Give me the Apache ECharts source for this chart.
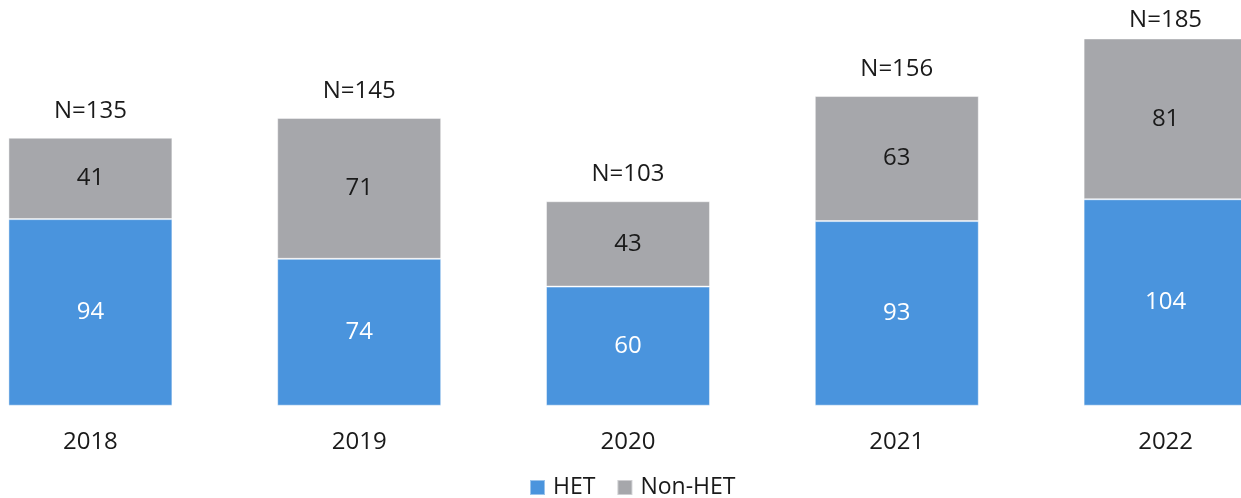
<!DOCTYPE html>
<html>
<head>
<meta charset="utf-8">
<script src="https://cdn.jsdelivr.net/npm/echarts@6/dist/echarts.min.js"></script>
<style>
  html, body { margin: 0; padding: 0; background: #ffffff; }
  #chart { width: 1241px; height: 498px; }
</style>
</head>
<body>
<div id="chart"></div>
<script>
// Annual case counts split by HET / Non-HET
const years = ['2018', '2019', '2020', '2021', '2022'];
const het = [94, 74, 60, 93, 104];
const nonHet = [41, 71, 43, 63, 81];
const totals = years.map((_, i) => het[i] + nonHet[i]);

const FONT = "'Open Sans', 'Noto Sans', sans-serif";
const TEXT = '#1a1a1a';

const chart = echarts.init(document.getElementById('chart'), null, { renderer: 'canvas' });

// The tallest stack sits close to the top edge, so its total label is tucked in a little
const totalLabelDistance = (i) => (totals[i] === Math.max(...totals) ? 6 : 15);

chart.setOption({
  animation: false,
  textStyle: { fontFamily: FONT },
  grid: {
    left: -44, right: -59, top: 8.7, bottom: 92.3,
    containLabel: false,
    outerBoundsMode: 'none'
  },
  legend: {
    bottom: -6,
    left: 524,
    itemWidth: 15,
    itemHeight: 15,
    itemGap: 21,
    icon: 'rect',
    textStyle: { fontFamily: FONT, fontSize: 23, color: TEXT, padding: [0, 0, 0, 3] },
    data: ['HET', 'Non-HET']
  },
  xAxis: {
    type: 'category',
    data: years,
    axisLine: { show: false },
    axisTick: { show: false },
    axisLabel: { fontFamily: FONT, fontSize: 24, color: TEXT, margin: 24 }
  },
  yAxis: {
    type: 'value',
    min: 0,
    max: 200,
    show: false,
    splitLine: { show: false }
  },
  series: [
    {
      name: 'HET',
      type: 'bar',
      stack: 'total',
      data: het,
      barCategoryGap: '39%',
      itemStyle: { color: '#4a94dd', borderColor: 'rgba(255,255,255,0.45)', borderWidth: 1 },
      label: { show: true, position: 'inside', fontFamily: FONT, fontSize: 24, color: '#ffffff' }
    },
    {
      name: 'Non-HET',
      type: 'bar',
      stack: 'total',
      data: nonHet,
      itemStyle: { color: '#a6a7ab', borderColor: 'rgba(255,255,255,0.45)', borderWidth: 1 },
      label: { show: true, position: 'inside', fontFamily: FONT, fontSize: 24, color: TEXT }
    },
    {
      // zero-height cap on each stack, carrying the N= total label
      name: 'Total',
      type: 'bar',
      stack: 'total',
      data: years.map((_, i) => ({ value: 0, label: { distance: totalLabelDistance(i) } })),
      silent: true,
      itemStyle: { color: 'transparent' },
      label: {
        show: true,
        position: 'top',
        fontFamily: FONT,
        fontSize: 24,
        color: TEXT,
        formatter: p => 'N=' + totals[p.dataIndex]
      }
    }
  ]
});
</script>
</body>
</html>
